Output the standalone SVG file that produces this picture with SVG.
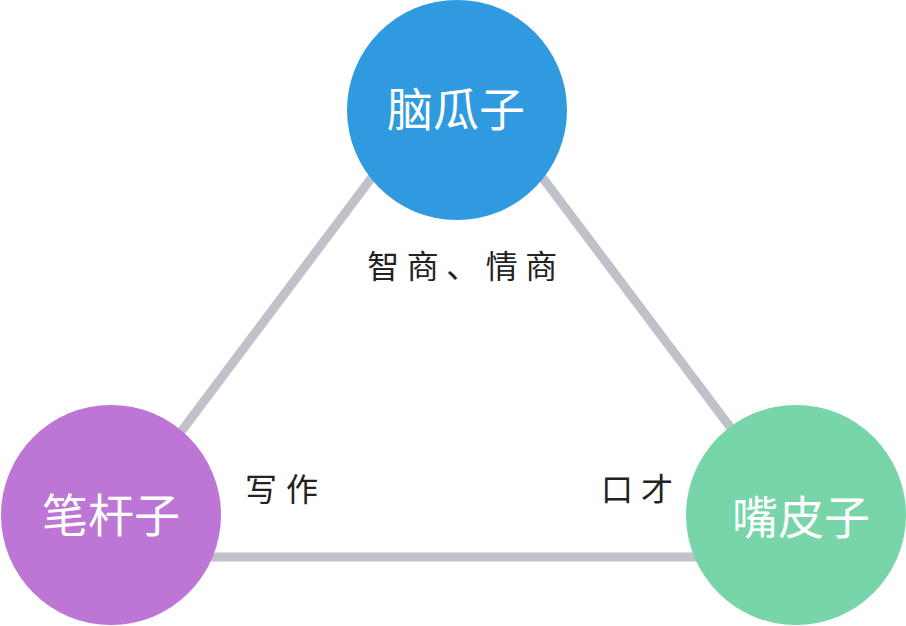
<svg xmlns="http://www.w3.org/2000/svg" width="906" height="626" viewBox="0 0 906 626">
<style>
.edge{stroke:#c0c2ca;stroke-width:9;fill:none;stroke-linecap:butt}
.big{font-family:"Noto Sans CJK SC","Noto Sans",sans-serif;font-size:46px;fill:#ffffff;text-anchor:middle}
.lbl{font-family:"Noto Sans CJK SC","Noto Sans",sans-serif;font-size:32px;fill:#222222;text-anchor:middle}
</style>
<rect width="906" height="626" fill="#ffffff"/>
<g id="connectors">
<line class="edge" x1="457" y1="64" x2="87" y2="557"/>
<line class="edge" x1="457" y1="64" x2="828" y2="557"/>
<line class="edge" x1="87" y1="557" x2="828" y2="557"/>
</g>
<g id="node-naoguazi">
<circle cx="457" cy="110" r="110" fill="#2f9ae0"/>
<text class="big" x="456" y="126">脑瓜子</text>
</g>
<g id="node-biganzi">
<circle cx="111" cy="515" r="110" fill="#bd76d6"/>
<text class="big" x="111" y="532">笔杆子</text>
</g>
<g id="node-zuipizi">
<circle cx="796" cy="515" r="110" fill="#77d5a9"/>
<text class="big" x="801" y="534">嘴皮子</text>
</g>
<g id="labels">
<text class="lbl" x="466" y="278" letter-spacing="7.5">智商、情商</text>
<text class="lbl" x="286" y="501" letter-spacing="9">写作</text>
<text class="lbl" x="641" y="501" letter-spacing="8">口才</text>
</g>
</svg>
